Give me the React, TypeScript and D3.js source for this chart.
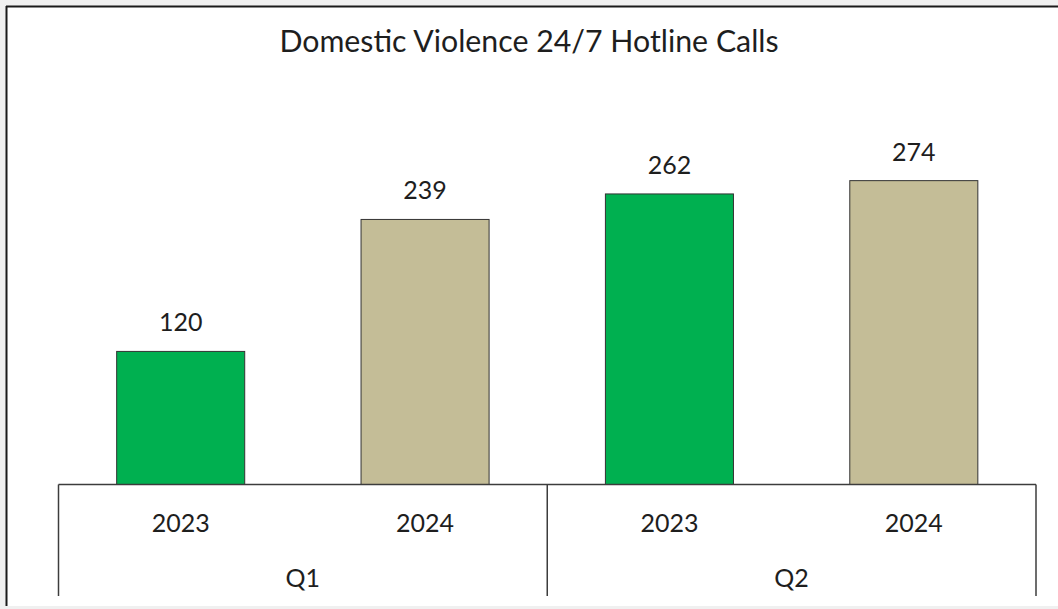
import React from "react";
import * as d3 from "d3";

const title = "Domestic Violence 24/7 Hotline Calls";
const quarters = ["Q1", "Q2"];
const years = ["2023", "2024"];
const categories = ["Q1-2023", "Q1-2024", "Q2-2023", "Q2-2024"];
const values = [120, 239, 262, 274];
const yearColors: Record<string, string> = { "2023": "#00B050", "2024": "#C4BD97" };

const W = 1058;
const H = 609;
const axisY = 484.5;
const plotTop = 151.8;
const axisLeft = 58.5;
const axisRight = 1036;

export default function App() {
  const x = d3
    .scaleBand<string>()
    .domain(categories)
    .range([axisLeft, axisRight])
    .paddingInner(0.476)
    .paddingOuter(0.238);
  const y = d3.scaleLinear().domain([0, 300]).range([axisY, plotTop]);
  const qx = d3.scaleBand<string>().domain(quarters).range([axisLeft, axisRight]).padding(0);
  const font = "Lato, 'Open Sans', sans-serif";
  const textColor = "#1e1e1e";
  const lineColor = "#3c3c3c";

  return (
    <svg
      width={W}
      height={H}
      style={{ position: "absolute", left: 0, top: 0, display: "block" }}
      fontFamily={font}
    >
      <rect x={0} y={0} width={W} height={H} fill="#f0f0f0" />
      <rect x={7} y={7} width={W - 7} height={599} fill="#ffffff" />
      <line x1={6.5} y1={6} x2={6.5} y2={606} stroke="#1a1a1a" strokeWidth={2} />
      <line x1={6} y1={6.5} x2={W} y2={6.5} stroke="#1a1a1a" strokeWidth={2} />

      <text x={529} y={52} textAnchor="middle" fontSize={30.3} fill={textColor}>
        {title}
      </text>

      {categories.map((c, i) => {
        const yr = years[i % 2];
        const bx = x(c)!;
        const by = y(values[i]);
        return (
          <g key={c}>
            <rect
              x={bx}
              y={by}
              width={x.bandwidth()}
              height={axisY - by}
              fill={yearColors[yr]}
              stroke="#333333"
              strokeWidth={1}
            />
            <text
              x={bx + x.bandwidth() / 2}
              y={by - 20}
              textAnchor="middle"
              fontSize={25}
              fill={textColor}
            >
              {values[i]}
            </text>
            <text
              x={bx + x.bandwidth() / 2}
              y={532}
              textAnchor="middle"
              fontSize={25}
              fill={textColor}
            >
              {yr}
            </text>
          </g>
        );
      })}

      <line x1={axisLeft} y1={axisY} x2={axisRight} y2={axisY} stroke={lineColor} strokeWidth={1.5} />
      {[axisLeft, ...quarters.map((q) => qx(q)! + qx.bandwidth())].map((lx, i) => (
        <line key={i} x1={lx} y1={axisY} x2={lx} y2={596} stroke={lineColor} strokeWidth={1.5} />
      ))}
      {quarters.map((q) => (
        <text
          key={q}
          x={qx(q)! + qx.bandwidth() / 2}
          y={587}
          textAnchor="middle"
          fontSize={25}
          fill={textColor}
        >
          {q}
        </text>
      ))}
    </svg>
  );
}
